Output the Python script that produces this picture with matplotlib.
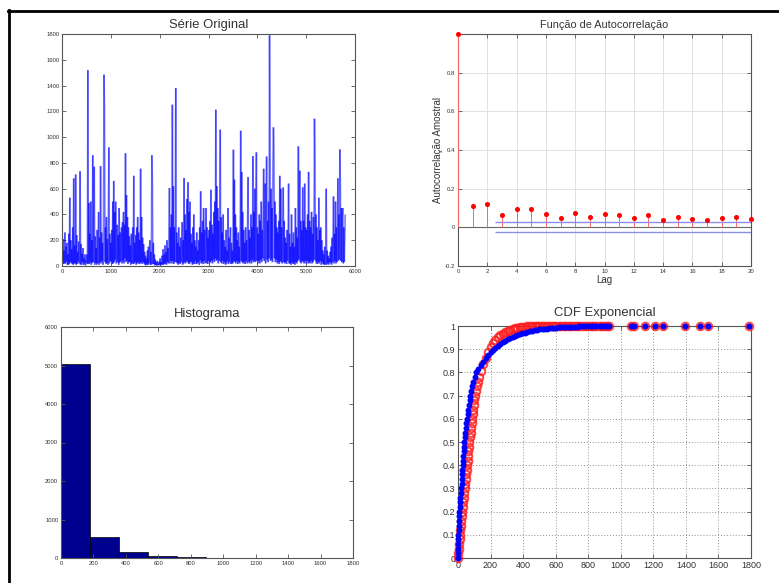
import numpy as np
import matplotlib
matplotlib.use("Agg")
import matplotlib.pyplot as plt
from matplotlib.lines import Line2D
from matplotlib.collections import LineCollection

plt.rcParams['font.family'] = ['Liberation Sans', 'DejaVu Sans']

# ---------------- data ----------------
# original series (one value every 10 samples), rows of 500 samples
serie_passo = 10
serie_linhas = [
    [450, 30, 210, 15, 120, 20, 260, 20, 150, 35, 180, 10, 90, 10, 250, 15, 530, 30, 200, 25,
     130, 15, 300, 10, 680, 20, 160, 20, 710, 10, 240, 15, 110, 35, 190, 20, 80, 735, 10, 170,
     12, 95, 30, 140, 8, 60, 20, 90, 5, 40],
    [30, 90, 15, 1520, 20, 490, 15, 250, 30, 500, 10, 200, 25, 860, 30, 300, 770, 10, 230, 25,
     140, 10, 280, 20, 160, 420, 10, 220, 30, 775, 20, 260, 40, 180, 10, 420, 1485, 1200, 30, 300,
     15, 380, 25, 210, 10, 330, 920, 20, 250, 40],
    [180, 30, 280, 15, 500, 20, 660, 30, 420, 50, 500, 20, 70, 320, 30, 240, 10, 450, 25, 260,
     35, 180, 300, 20, 340, 40, 420, 20, 320, 60, 875, 30, 550, 40, 380, 15, 300, 30, 230, 30,
     160, 10, 250, 20, 120, 300, 15, 700, 20, 180],
    [30, 240, 10, 300, 20, 380, 30, 260, 15, 200, 20, 755, 30, 380, 15, 220, 30, 170, 20, 110,
     10, 80, 5, 60, 15, 120, 8, 150, 20, 90, 200, 10, 110, 10, 860, 670, 15, 180, 15, 90,
     5, 50, 10, 30, 3, 40, 8, 20, 5, 35],
    [10, 60, 5, 30, 12, 80, 10, 130, 10, 90, 15, 160, 20, 110, 10, 200, 30, 140, 20, 250,
     605, 20, 300, 40, 400, 20, 1252, 40, 620, 15, 300, 30, 380, 1381, 30, 260, 20, 180, 10, 300,
     25, 150, 15, 220, 30, 120, 340, 10, 200, 20],
    [683, 30, 400, 20, 280, 40, 520, 30, 650, 20, 420, 15, 500, 30, 250, 30, 180, 10, 300, 20,
     400, 15, 200, 40, 150, 15, 260, 20, 120, 30, 200, 10, 300, 45, 580, 20, 260, 30, 350, 15,
     450, 40, 280, 20, 200, 450, 25, 300, 15, 220],
    [40, 280, 20, 350, 30, 592, 40, 320, 20, 250, 50, 420, 30, 500, 60, 1213, 40, 620, 50, 450,
     20, 350, 40, 400, 1058, 30, 380, 20, 260, 40, 400, 15, 200, 30, 150, 10, 280, 20, 120, 40,
     450, 15, 220, 30, 160, 300, 15, 180, 20, 120],
    [20, 903, 40, 670, 30, 400, 20, 300, 40, 200, 15, 260, 30, 150, 20, 300, 1050, 40, 730, 30,
     420, 20, 280, 30, 180, 15, 300, 40, 200, 20, 350, 690, 30, 280, 20, 220, 40, 400, 20, 300,
     50, 853, 30, 420, 40, 600, 30, 350, 882, 40],
    [300, 20, 250, 40, 400, 20, 350, 50, 500, 30, 280, 60, 420, 755, 40, 300, 640, 20, 400, 850,
     50, 350, 30, 500, 60, 1790, 1040, 40, 600, 50, 450, 30, 820, 1076, 905, 60, 500, 30, 400, 50,
     300, 20, 260, 30, 350, 15, 700, 40, 600, 30],
    [300, 20, 250, 610, 30, 350, 20, 220, 30, 180, 15, 280, 40, 200, 640, 20, 250, 20, 150, 10,
     400, 30, 180, 15, 260, 20, 150, 10, 450, 30, 300, 20, 220, 40, 929, 50, 400, 740, 30, 350,
     20, 280, 40, 610, 30, 350, 20, 640, 40, 300],
    [20, 280, 40, 400, 20, 730, 30, 350, 20, 300, 40, 420, 20, 250, 30, 380, 50, 1143, 810, 40,
     400, 20, 300, 15, 200, 30, 530, 20, 280, 40, 300, 10, 200, 30, 120, 15, 90, 10, 150, 10,
     70, 600, 10, 120, 20, 80, 10, 60, 30, 110],
    [20, 150, 10, 220, 30, 180, 540, 20, 250, 40, 500, 20, 300, 30, 350, 680, 40, 400, 50, 905,
     640, 40, 450, 30, 380, 450, 20, 300, 30, 200, 400],
]

# sample autocorrelation, lags 0..20
acf_lags = list(range(21))
acf_vals = [1.0, 0.108, 0.122, 0.062, 0.095, 0.095, 0.069, 0.047, 0.074, 0.052, 0.067,
            0.064, 0.047, 0.064, 0.036, 0.055, 0.041, 0.036, 0.050, 0.053, 0.045]
acf_bound = 0.026
acf_bound_start = 2.5

# histogram (10 bins)
hist_edges = [0, 179, 358, 537, 716, 895, 1074, 1253, 1432, 1611, 1790]
hist_counts = [5030, 548, 152, 43, 17, 8, 3, 1, 2, 1]

# empirical CDF (red)
cdf_red_x = [0, 2, 5, 7, 10, 12, 15, 17, 20, 22, 25, 28, 31, 35, 38, 41, 44, 47, 50, 53,
             56, 59, 62, 64, 67, 70, 73, 77, 80, 84, 87, 90, 93, 96, 100, 103, 109, 116, 123, 130,
             140, 155, 170, 185, 200, 215, 230, 245, 260, 275, 290, 305, 320, 335, 350, 365, 380,
             395, 410, 425, 440, 455, 470, 485, 500, 515, 530, 545, 560, 575, 590, 605, 620, 635,
             650, 665, 680, 695, 710, 730, 745, 760, 780, 800, 815, 830, 850, 870, 885, 900, 915,
             930, 1064, 1080, 1146, 1212, 1260, 1393, 1486, 1538, 1790]
cdf_red_y = [0.00, 0.02, 0.04, 0.06, 0.08, 0.10, 0.12, 0.14, 0.16, 0.18, 0.20, 0.22, 0.24, 0.26,
             0.28, 0.30, 0.32, 0.34, 0.36, 0.38, 0.40, 0.42, 0.44, 0.46, 0.48, 0.50, 0.52, 0.54,
             0.56, 0.58, 0.60, 0.62, 0.64, 0.66, 0.68, 0.70, 0.72, 0.74, 0.76, 0.78,
             0.805, 0.835, 0.862, 0.89, 0.91, 0.925, 0.94, 0.952, 0.96, 0.967, 0.973, 0.978, 0.983,
             0.987, 0.99, 0.992, 0.994, 0.996, 0.997, 0.998, 0.999, 0.999, 0.999, 0.999, 1.0, 1.0,
             1.0, 1.0, 1.0, 1.0, 1.0, 1.0, 1.0, 1.0, 1.0, 1.0, 1.0, 1.0, 1.0, 1.0, 1.0, 1.0, 1.0,
             1.0, 1.0, 1.0, 1.0, 1.0, 1.0, 1.0, 1.0, 1.0, 1.0, 1.0, 1.0, 1.0, 1.0, 1.0, 1.0, 1.0, 1.0]

# fitted exponential CDF (blue)
cdf_blue_x = [0, 0.5, 1, 1.5, 2, 3, 4, 5, 6, 7, 8, 10, 12, 15, 17, 20, 22, 24, 25, 27,
              29, 31, 33, 35, 37, 39, 42, 45, 49, 52, 56, 60, 64, 68, 72, 76, 82, 88, 95, 103,
              111, 125, 140, 155, 170, 185, 200, 215, 230, 245, 260, 275, 290, 305, 320, 335, 350,
              365, 380, 395, 410, 425, 440, 455, 470, 485, 500, 515, 530, 545, 560, 575, 590, 605,
              620, 635, 650, 665, 680, 695, 710, 730, 745, 760, 780, 800, 815, 830, 850, 870, 885,
              900, 915, 930, 1064, 1080, 1146, 1212, 1260, 1393, 1486, 1538, 1790]
cdf_blue_y = [0.00, 0.02, 0.04, 0.06, 0.08, 0.10, 0.12, 0.14, 0.16, 0.18, 0.20, 0.22, 0.24, 0.26,
              0.28, 0.30, 0.32, 0.34, 0.36, 0.38, 0.40, 0.42, 0.44, 0.46, 0.48, 0.50, 0.52, 0.54,
              0.56, 0.58, 0.60, 0.62, 0.64, 0.66, 0.68, 0.70, 0.72, 0.74, 0.76, 0.78, 0.80,
              0.815, 0.83, 0.846, 0.862, 0.875, 0.887, 0.898, 0.906, 0.914, 0.922, 0.929, 0.936,
              0.942, 0.947, 0.952, 0.957, 0.961, 0.965, 0.968, 0.971, 0.974, 0.977, 0.979, 0.981,
              0.983, 0.985, 0.986, 0.988, 0.989, 0.990, 0.991, 0.992, 0.993, 0.994, 0.995, 0.995,
              0.996, 0.996, 0.997, 0.997, 0.997, 0.998, 0.998, 0.998, 0.998, 0.999, 0.999, 0.999,
              0.999, 0.999, 0.999, 0.999, 0.999, 1.0, 1.0, 1.0, 1.0, 1.0, 1.0, 1.0, 1.0, 1.0]

# ---------------- figure ----------------
W, H = 779, 583
fig = plt.figure(figsize=(W / 100, H / 100), dpi=100)
fig.patch.set_facecolor('white')


def px_axes(x0, y0, x1, y1):
    return fig.add_axes([x0 / W, 1 - y1 / H, (x1 - x0) / W, (y1 - y0) / H])


SPINE = '#555555'
TXT = '#333333'


def style(ax, tick_size):
    for s in ax.spines.values():
        s.set_color(SPINE)
        s.set_linewidth(0.8)
    ax.tick_params(direction='in', length=3, width=0.6, colors=SPINE,
                   labelcolor=TXT, labelsize=tick_size, top=True, right=True, pad=2)


# frame lines of the page
fig.add_artist(Line2D([8 / W, 1], [1 - 11 / H, 1 - 11 / H], color='black', lw=2.0))
fig.add_artist(Line2D([9 / W, 9 / W], [0, 1 - 10 / H], color='black', lw=2.0))

# --- Série Original ---
ax1 = px_axes(62, 34, 355, 266)
serie = np.concatenate([np.array(r, dtype=float) for r in serie_linhas])
amostras = np.arange(len(serie)) * serie_passo
pontos = np.column_stack([amostras, serie])
segmentos = np.stack([pontos[:-1], pontos[1:]], axis=1)
# each segment drawn on its own so that overlaps build up a darker core
ax1.add_collection(LineCollection(segmentos, colors=[(0.0, 0.0, 1.0, 0.5)], linewidths=1.2))
ax1.set_xlim(0, 6000)
ax1.set_ylim(0, 1800)
ax1.set_xticks(range(0, 6001, 1000))
ax1.set_yticks(range(0, 1801, 200))
style(ax1, 4.2)
ax1.set_title('Série Original', fontsize=9.4, color=TXT, pad=4)

# --- Função de Autocorrelação ---
ax2 = px_axes(458, 34, 751, 266)
ax2.grid(True, color='#dcdcdc', lw=0.6)
ax2.set_axisbelow(True)
ax2.axhline(0, color='#666666', lw=0.8, zorder=2)
ax2.vlines(acf_lags, 0, acf_vals, color=(1.0, 0.4, 0.4), lw=0.7, zorder=3)
ax2.plot(acf_lags, acf_vals, 'o', color='red', ms=2.6, zorder=4, clip_on=False)
ax2.hlines([acf_bound, -acf_bound], acf_bound_start, 20, color=(0.55, 0.55, 0.92), lw=1.0, zorder=3)
ax2.set_xlim(0, 20)
ax2.set_ylim(-0.2, 1.0)
ax2.set_xticks(range(0, 21, 2))
ax2.set_yticks([-0.2, 0, 0.2, 0.4, 0.6, 0.8])
ax2.set_yticklabels(['-0.2', '0', '0.2', '0.4', '0.6', '0.8'])
style(ax2, 4.3)
ax2.set_title('Função de Autocorrelação', fontsize=7.8, color=TXT, pad=4)
ax2.set_xlabel('Lag', fontsize=7, color=TXT, labelpad=1)
ax2.set_ylabel('Autocorrelação Amostral', fontsize=7, color=TXT, labelpad=1)

# --- Histograma ---
ax3 = px_axes(61, 327, 353, 558)
larguras = np.diff(hist_edges)
ax3.bar(hist_edges[:-1], hist_counts, width=larguras, align='edge',
        color=(0.0, 0.0, 0.56), edgecolor='black', lw=0.5)
ax3.set_xlim(0, 1800)
ax3.set_ylim(0, 6000)
ax3.set_xticks(range(0, 1801, 200))
ax3.set_yticks(range(0, 6001, 1000))
style(ax3, 4.2)
ax3.set_title('Histograma', fontsize=9.4, color=TXT, pad=7)

# --- CDF Exponencial ---
ax4 = px_axes(458, 326, 751, 558)
ax4.grid(True, color='#909090', lw=0.7, linestyle=(0, (1, 2)))
ax4.set_axisbelow(True)
ax4.plot(cdf_red_x, cdf_red_y, 'o', mfc='none', mec=(1.0, 0.1, 0.1), ms=5.4, mew=1.5,
         alpha=0.8, clip_on=False, zorder=3)
ax4.plot(cdf_blue_x, cdf_blue_y, '.', color='blue', ms=6.5, clip_on=False, zorder=4)
ax4.set_xlim(0, 1800)
ax4.set_ylim(0, 1)
ax4.set_xticks(range(0, 1801, 200))
ax4.set_yticks(np.round(np.arange(0, 1.01, 0.1), 1))
ax4.set_yticklabels(['0', '0.1', '0.2', '0.3', '0.4', '0.5', '0.6', '0.7', '0.8', '0.9', '1'])
style(ax4, 6.5)
ax4.set_title('CDF Exponencial', fontsize=9.4, color=TXT, pad=7)

fig.savefig('out.png', dpi=100)
